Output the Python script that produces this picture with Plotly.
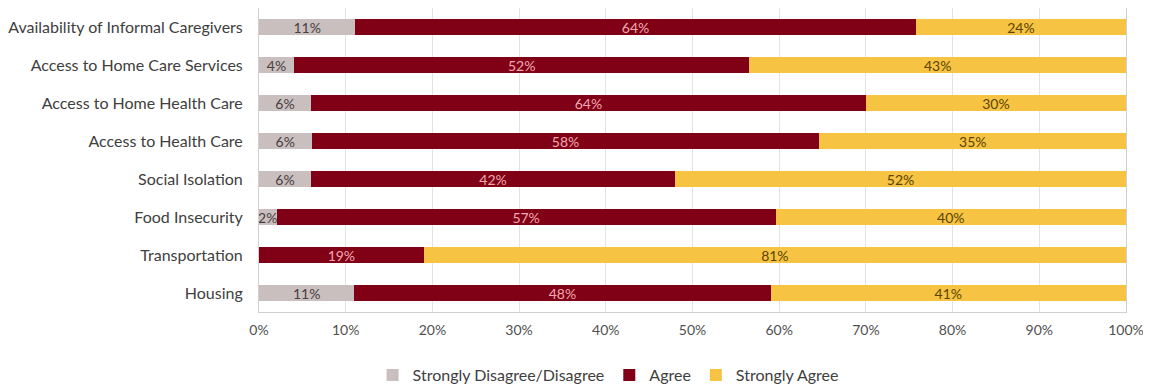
import plotly.graph_objects as go

categories = ["Availability of Informal Caregivers", "Access to Home Care Services",
              "Access to Home Health Care", "Access to Health Care", "Social Isolation",
              "Food Insecurity", "Transportation", "Housing"]
disagree = [11, 4, 6, 6, 6, 2, 0, 11]
agree = [64, 52, 64, 58, 42, 57, 19, 48]
strongly_agree = [24, 43, 30, 35, 52, 40, 81, 41]
tick_vals = [0, 10, 20, 30, 40, 50, 60, 70, 80, 90, 100]
tick_text = [f"{v}%" for v in tick_vals]

FONT = "Lato"

def labels(vals):
    return [f"{v}%" if v > 0 else "" for v in vals]

fig = go.Figure()
series = [
    ("Strongly Disagree/Disagree", disagree, "#c9bfbf", "#4a4040"),
    ("Agree", agree, "#800016", "#f2aab0"),
    ("Strongly Agree", strongly_agree, "#f6c343", "#5a4300"),
]
for name, vals, color, tcolor in series:
    fig.add_trace(go.Bar(
        y=categories, x=vals, name=name, orientation="h",
        marker=dict(color=color, line=dict(width=0)),
        text=labels(vals), textposition="inside", insidetextanchor="middle",
        textfont=dict(color=tcolor, size=14, family=FONT),
        constraintext="none", cliponaxis=False,
    ))

fig.update_layout(
    barmode="stack", barnorm="percent", bargap=0.6,
    width=1143, height=380,
    margin=dict(l=251, r=25, t=0, b=76),
    paper_bgcolor="white", plot_bgcolor="white",
    font=dict(family=FONT, size=16, color="#404040"),
    uniformtext=dict(mode="show", minsize=14),
    legend=dict(orientation="h", xref="container", x=0.525, xanchor="center",
                yref="container", y=0.034, yanchor="middle",
                font=dict(size=16, color="#404040"), traceorder="normal",
                itemwidth=30),
    showlegend=True,
)
fig.update_xaxes(range=[0, 100], tickvals=tick_vals, ticktext=tick_text,
                 showgrid=True, gridcolor="#e3e3e3", gridwidth=1,
                 zeroline=False, showline=True, linecolor="#d0d0d0", mirror=True,
                 ticks="", ticklen=0, ticklabelstandoff=5,
                 tickfont=dict(size=14, color="#505050"))
fig.update_yaxes(categoryorder="array", categoryarray=categories, autorange="reversed",
                 showline=True, linecolor="#d0d0d0", mirror=True, ticks="",
                 ticklabelstandoff=12, tickfont=dict(size=16, color="#404040"))

fig.write_html("out.html")
